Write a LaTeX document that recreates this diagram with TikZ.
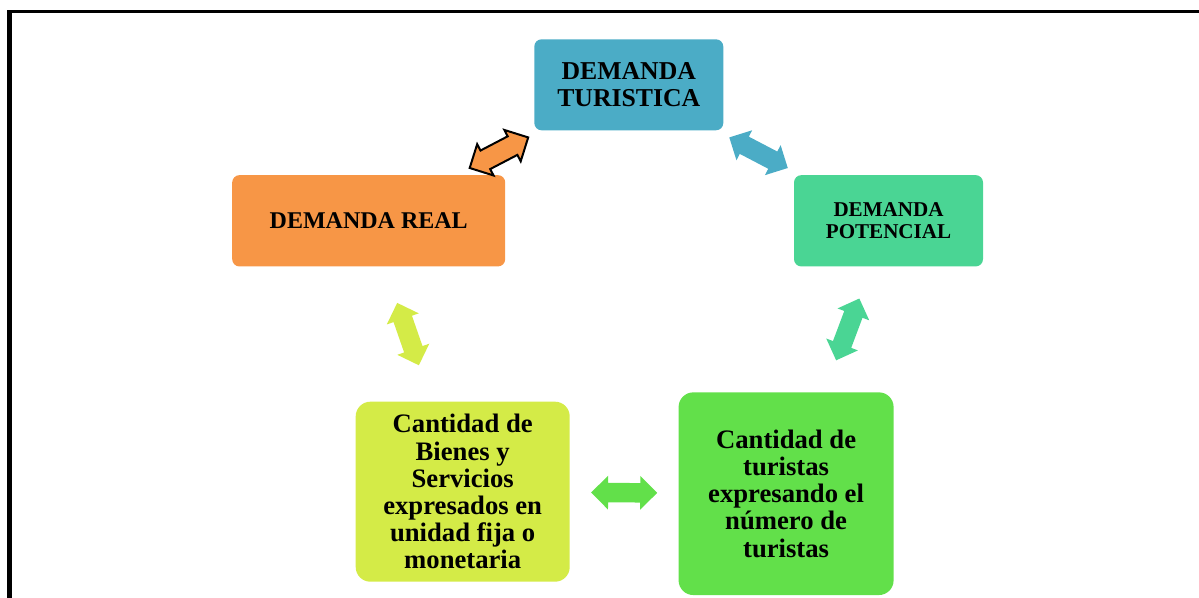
\documentclass[tikz,border=0pt]{standalone}
\usepackage{fontspec}
\setmainfont{Liberation Serif}
\usepackage{tikz}
\usetikzlibrary{shapes.arrows}
\definecolor{azul}{HTML}{4BACC6}
\definecolor{naranja}{HTML}{F79646}
\definecolor{verdeagua}{HTML}{4AD594}
\definecolor{lima}{HTML}{D4EB47}
\definecolor{verde}{HTML}{62E04A}
\tikzset{%
    caja/.style={%
        rectangle, align=center, inner sep=0pt, rounded corners=5.5pt
    },
    cajagrande/.style={%
        caja, rounded corners=11pt,
        font=\bfseries\fontsize{20}{20.4}\selectfont
    },
    flecha/.style={%
        double arrow, sloped, fill=#1, inner xsep=0pt, inner ysep=7.1pt,
        minimum height=49.5pt, minimum width=25pt,
        double arrow head extend=5.4pt
    }
}

\begin{document}
\begin{tikzpicture}[x=0.75pt,y=-0.75pt]
\useasboundingbox (0,0) rectangle (1199,598);
\fill (7.3,10) rectangle (12.3,598);
\fill (7.3,10) rectangle (1199,13.3);

\node[caja, fill=azul, minimum width=141.75pt, minimum height=68.25pt,
      font=\bfseries\fontsize{19.3}{20}\selectfont] (turistica) at (628.8,84.8) {DEMANDA\\TURISTICA};
\node[caja, fill=naranja, minimum width=204.75pt, minimum height=68.5pt,
      font=\bfseries\fontsize{18}{20}\selectfont] (real) at (368.7,220.8) {DEMANDA REAL};
\node[caja, fill=verdeagua, minimum width=141.75pt, minimum height=68.5pt,
      font=\bfseries\fontsize{15.8}{16}\selectfont] (potencial) at (888.5,220.8) {DEMANDA\\POTENCIAL};
\node[cajagrande, fill=lima, minimum width=160.5pt, minimum height=135pt] (bienes) at (462.7,491.7)
    {Cantidad de\\Bienes y\\Servicios\\expresados en\\unidad fija o\\monetaria};
\node[cajagrande, fill=verde, minimum width=161.25pt, minimum height=152pt] (turistas) at (786.1,493.7)
    {Cantidad de\\turistas\\expresando el\\número de\\turistas};

\path (real) -- node[flecha=naranja, draw=black, line width=1.5pt] (fRT) {} (turistica);
\path (turistica) -- node[flecha=azul] (fTP) {} (potencial);
\path (potencial) -- node[flecha=verdeagua] (fPT) {} (turistas);
\path (real) -- node[flecha=lima] (fRB) {} (bienes);
\path (bienes) -- node[flecha=verde] (fBT) {} (turistas);
\end{tikzpicture}
\end{document}
